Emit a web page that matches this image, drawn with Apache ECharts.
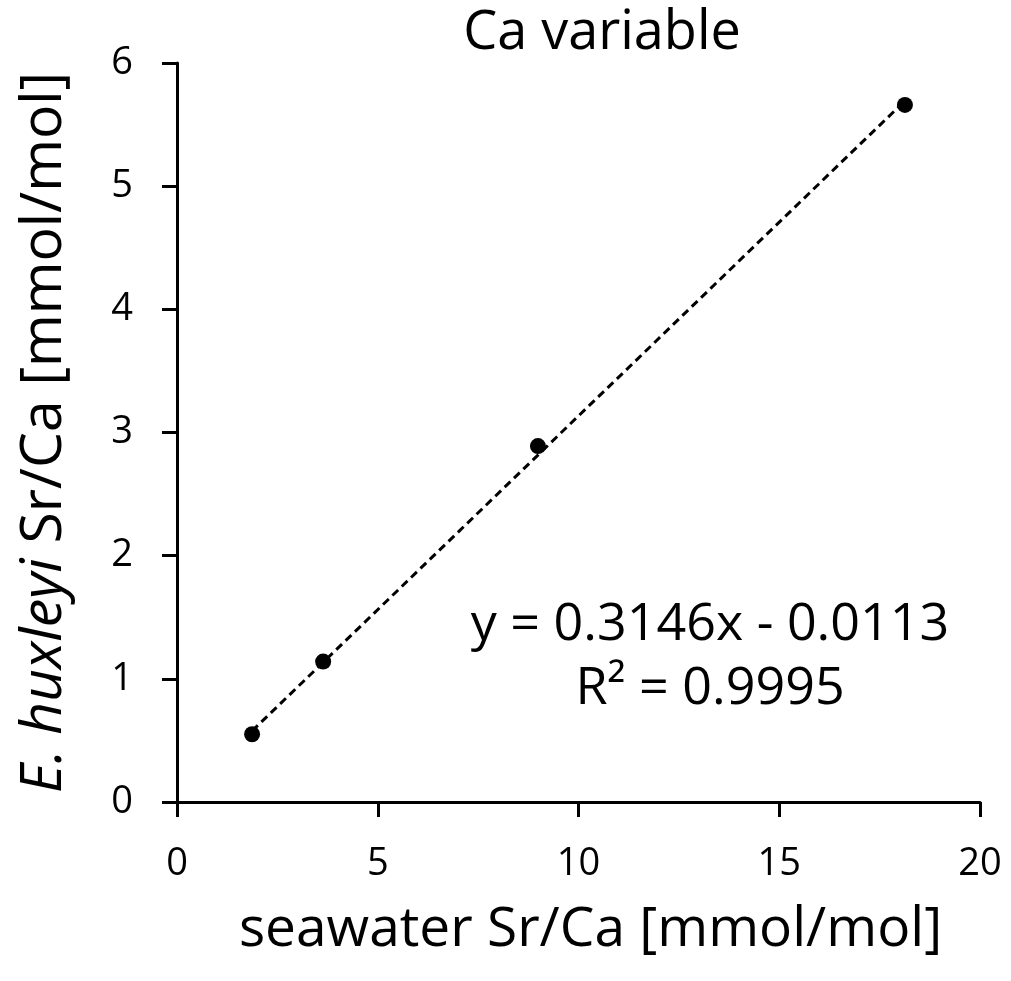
<!DOCTYPE html>
<html>
<head>
<meta charset="utf-8">
<title>Ca variable</title>
<style>
  html, body { margin: 0; padding: 0; background: #fff; }
  #main { width: 1011px; height: 981px; }
</style>
</head>
<body>
<div id="main"></div>
<script src="https://cdn.jsdelivr.net/npm/echarts@6/dist/echarts.min.js"></script>
<script>
var seawaterSrCa = [1.87, 3.64, 8.99, 18.13];
var huxleyiSrCa = [0.55, 1.14, 2.89, 5.66];
var xTicks = [0, 5, 10, 15, 20];
var yTicks = [0, 1, 2, 3, 4, 5, 6];
var fit = [0.3146, -0.0113]; // slope, intercept
var fitText = ['y = 0.3146x - 0.0113', 'R² = 0.9995'];

var points = seawaterSrCa.map(function (x, i) { return [x, huxleyiSrCa[i]]; });
var x0 = seawaterSrCa[0], x1 = seawaterSrCa[seawaterSrCa.length - 1];
var trend = [[x0, fit[0] * x0 + fit[1]], [x1, fit[0] * x1 + fit[1]]];

var font = '"Open Sans", "Liberation Sans", sans-serif';
var myChart = echarts.init(document.getElementById('main'));
var option = {
    animation: false,
    backgroundColor: '#fff',
    title: {
        text: 'Ca variable',
        left: 597,
        top: 2,
        textAlign: 'center',
        textStyle: { fontFamily: font, fontSize: 54, fontWeight: 'normal', color: '#000' }
    },
    grid: { left: 177, right: 31, top: 63, bottom: 179 },
    xAxis: {
        type: 'value',
        min: 0, max: 20, interval: 5,
        name: 'seawater Sr/Ca [mmol/mol]',
        nameLocation: 'middle',
        nameGap: 101,
        nameTextStyle: { fontFamily: font, fontSize: 55, color: '#000', padding: [0, 0, 0, 24] },
        axisLine: { lineStyle: { color: '#000', width: 3 } },
        axisTick: { show: true, length: 15, lineStyle: { color: '#000', width: 3 } },
        axisLabel: {
            fontFamily: font, fontSize: 38, color: '#000', margin: 43,
            formatter: function (v) { return xTicks.indexOf(v) >= 0 ? String(v) : ''; }
        },
        splitLine: { show: false }
    },
    yAxis: {
        type: 'value',
        min: 0, max: 6, interval: 1,
        name: '{i|E. huxleyi} Sr/Ca [mmol/mol]',
        nameLocation: 'middle',
        nameGap: 104,
        nameTextStyle: {
            fontFamily: font, fontSize: 57, color: '#000',
            rich: { i: { fontFamily: font, fontSize: 57, fontStyle: 'italic', color: '#000' } }
        },
        axisLine: { lineStyle: { color: '#000', width: 3 } },
        axisTick: { show: true, length: 15, lineStyle: { color: '#000', width: 3 } },
        axisLabel: {
            fontFamily: font, fontSize: 38, color: '#000', margin: 44,
            formatter: function (v) { return yTicks.indexOf(v) >= 0 ? String(v) : ''; }
        },
        splitLine: { show: false }
    },
    graphic: [{
        type: 'text',
        x: 710, y: 625,
        style: {
            text: fitText[0], font: '52px ' + font, fill: '#000',
            align: 'center', verticalAlign: 'middle'
        }
    }, {
        type: 'text',
        x: 710, y: 689,
        style: {
            text: fitText[1], font: '52px ' + font, fill: '#000',
            align: 'center', verticalAlign: 'middle'
        }
    }],
    series: [{
        type: 'line',
        data: trend,
        symbol: 'none',
        lineStyle: { color: '#000', width: 3, type: [8, 5] },
        z: 2
    }, {
        type: 'scatter',
        data: points,
        symbol: 'circle',
        symbolSize: 16,
        itemStyle: { color: '#000', opacity: 1 },
        z: 3
    }]
};
myChart.setOption(option);
</script>
</body>
</html>
